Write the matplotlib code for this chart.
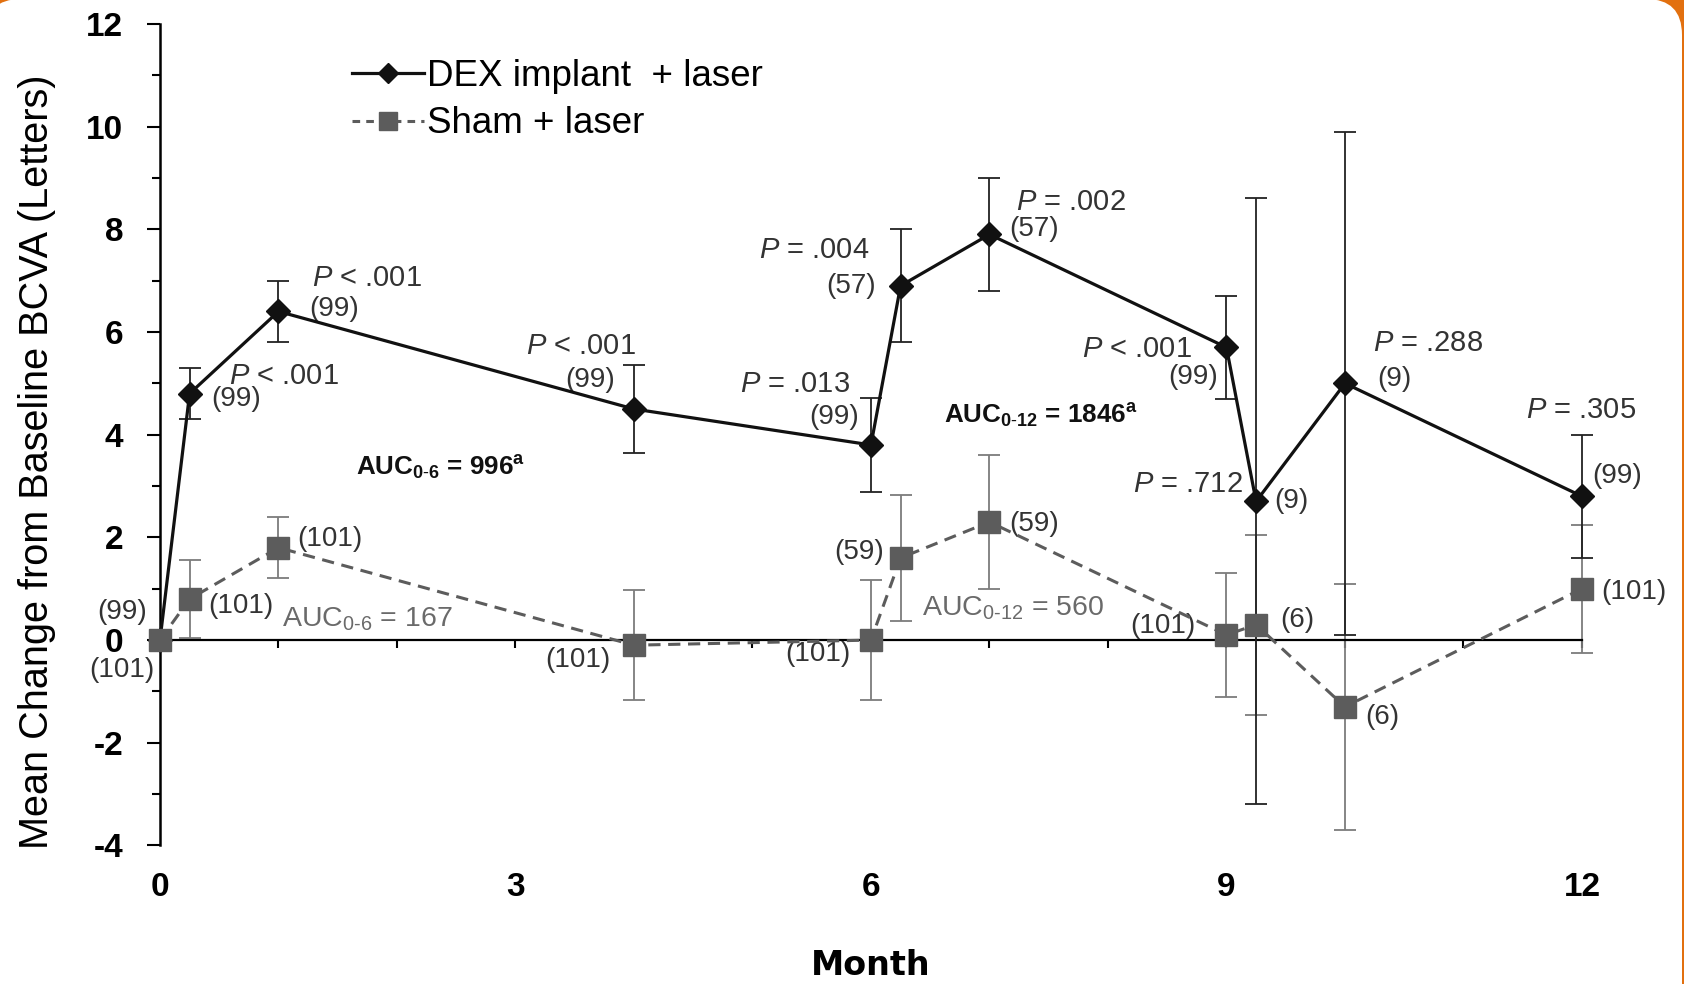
import numpy as np
import matplotlib
matplotlib.use("Agg")
import matplotlib.pyplot as plt
from matplotlib.patches import FancyBboxPatch
from matplotlib.lines import Line2D

plt.rcParams['font.family'] = ['Liberation Sans', 'DejaVu Sans']
plt.rcParams['mathtext.fontset'] = 'custom'
plt.rcParams['mathtext.rm'] = 'Liberation Sans'
plt.rcParams['mathtext.it'] = 'Liberation Sans:italic'
plt.rcParams['mathtext.bf'] = 'Liberation Sans:bold'
plt.rcParams['axes.unicode_minus'] = False

# data
months = [0, 0.25, 1, 4, 6, 6.25, 7, 9, 9.25, 10, 12]
dex_mean = [0, 4.8, 6.4, 4.5, 3.8, 6.9, 7.9, 5.7, 2.7, 5.0, 2.8]
dex_err = [0, 0.5, 0.6, 0.85, 0.92, 1.1, 1.1, 1.0, 5.9, 4.9, 1.2]
sham_mean = [0, 0.8, 1.8, -0.1, 0.0, 1.6, 2.3, 0.1, 0.3, -1.3, 1.0]
sham_err = [0, 0.75, 0.6, 1.07, 1.17, 1.22, 1.3, 1.2, 1.75, 2.4, 1.25]

p_labels = ["P < .001", "P < .001", "P < .001", "P = .013", "P = .004",
            "P = .002", "P < .001", "P = .712", "P = .288", "P = .305"]
p_pos = [(0.58, 5.15, 'left'), (1.28, 7.05, 'left'), (4.02, 5.73, 'right'),
         (5.82, 4.98, 'right'), (5.99, 7.59, 'right'), (7.22, 8.54, 'left'),
         (8.71, 5.67, 'right'), (9.14, 3.03, 'right'), (10.24, 5.79, 'left'),
         (11.53, 4.48, 'left')]

dex_n = ["(99)", "(99)", "(99)", "(99)", "(99)", "(57)", "(57)", "(99)", "(9)", "(9)", "(99)"]
dex_n_pos = [(-0.11, 0.54, 'right'), (0.43, 4.69, 'left'), (1.26, 6.44, 'left'),
             (3.84, 5.06, 'right'), (5.90, 4.35, 'right'), (6.04, 6.90, 'right'),
             (7.17, 8.01, 'left'), (8.93, 5.13, 'right'), (9.40, 2.70, 'left'),
             (10.27, 5.08, 'left'), (12.09, 3.20, 'left')]
sham_n = ["(101)", "(101)", "(101)", "(101)", "(101)", "(59)", "(59)", "(101)", "(6)", "(6)", "(101)"]
sham_n_pos = [(-0.05, -0.58, 'right'), (0.41, 0.67, 'left'), (1.16, 1.97, 'left'),
              (3.80, -0.38, 'right'), (5.83, -0.27, 'right'), (6.11, 1.72, 'right'),
              (7.17, 2.26, 'left'), (8.74, 0.27, 'right'), (9.45, 0.40, 'left'),
              (10.17, -1.49, 'left'), (12.16, 0.94, 'left')]

xtick_vals = list(range(0, 13))
xtick_text = [str(m) if m % 3 == 0 else "" for m in xtick_vals]

fig = plt.figure(figsize=(16.84, 9.84), dpi=100, facecolor='#E2700F')
# white rounded card on the orange frame
card = FancyBboxPatch((-15, -60), 1697, 1045, boxstyle="round,pad=0,rounding_size=36",
                      transform=None, facecolor='white', edgecolor='none', zorder=-5)
fig.patches.append(card)

ax = fig.add_axes([0.0950, 0.1408, 0.8444, 0.8349])
ax.patch.set_alpha(0)

dark = '#111111'
gray = '#5c5c5c'

ax.errorbar(months, sham_mean, yerr=sham_err, fmt='none', ecolor='#7c7c7c',
            elinewidth=1.3, capsize=8, capthick=1.3, zorder=2, clip_on=False)
ax.errorbar(months, dex_mean, yerr=dex_err, fmt='none', ecolor='#222222',
            elinewidth=1.3, capsize=8, capthick=1.3, zorder=3, clip_on=False)
ax.plot(months, dex_mean, color=dark, lw=2.3, marker='D', ms=12,
        zorder=4, clip_on=False)
ax.plot(months, sham_mean, color=gray, lw=2.2, ls=(0, (4, 2.5)), marker='s', ms=16,
        zorder=5, clip_on=False)

ax.set_xlim(0, 12)
ax.set_ylim(-4, 12)
for s in ['top', 'right']:
    ax.spines[s].set_visible(False)
ax.spines['left'].set_linewidth(1.8)
ax.spines['bottom'].set_position(('data', 0))
ax.spines['bottom'].set_linewidth(1.6)

ax.set_yticks(np.arange(-4, 13, 2))
ax.set_yticks(np.arange(-3, 12, 2), minor=True)
ax.tick_params(axis='y', which='major', length=9.5, width=1.5, pad=17,
               labelsize=24)
ax.tick_params(axis='y', which='minor', length=6, width=1.5)
for lab in ax.get_yticklabels():
    lab.set_fontweight('bold')

ax.set_xticks(xtick_vals)
ax.set_xticklabels(xtick_text, fontsize=24, fontweight='bold')
ax.tick_params(axis='x', length=6, width=1.5, pad=161)

ax.set_xlabel("Month", fontsize=24, fontweight='bold', family='DejaVu Sans',
              labelpad=33)
ax.set_ylabel("Mean Change from Baseline BCVA (Letters)", fontsize=28.5)
ax.yaxis.set_label_coords(-0.073, 0.467)

# annotations
for txt, (x, y, ha) in zip(p_labels, p_pos):
    ax.text(x, y, "$\\mathit{P}$" + txt[1:], fontsize=21, color='#333333',
            ha=ha, va='center')
for txt, (x, y, ha) in zip(dex_n, dex_n_pos):
    ax.text(x, y, txt, fontsize=20, color='#333333', ha=ha, va='center')
for txt, (x, y, ha) in zip(sham_n, sham_n_pos):
    ax.text(x, y, txt, fontsize=20, color='#333333', ha=ha, va='center')

ax.text(1.65, 3.21, "AUC$_{\\mathregular{0}\\text{-}\\mathregular{6}}$ = 996$^{\\mathregular{a}}$",
        fontsize=18.7, fontweight='bold', color='#111111', ha='left', va='baseline')
ax.text(6.62, 4.22, "AUC$_{\\mathregular{0}\\text{-}\\mathregular{12}}$ = 1846$^{\\mathregular{a}}$",
        fontsize=18.7, fontweight='bold', color='#111111', ha='left', va='baseline')
ax.text(1.03, 0.27, "AUC$_{\\mathregular{0}\\text{-}\\mathregular{6}}$ = 167",
        fontsize=20.5, color='#6a6a6a', ha='left', va='baseline')
ax.text(6.43, 0.47, "AUC$_{\\mathregular{0}\\text{-}\\mathregular{12}}$ = 560",
        fontsize=20.5, color='#6a6a6a', ha='left', va='baseline')

handles = [Line2D([], [], color=dark, lw=2.3, marker='D', ms=10),
           Line2D([], [], color=gray, lw=2.2, ls=(0, (2.5, 2)), marker='s', ms=13)]
ax.legend(handles, ["DEX implant  + laser", "Sham + laser"], loc='upper left',
          bbox_to_anchor=(0.135, 0.957), frameon=False, fontsize=26.5,
          handlelength=1.95, handletextpad=0.1, labelspacing=0.33,
          borderpad=0, borderaxespad=0, numpoints=1)

fig.savefig("out.png", dpi=100, facecolor=fig.get_facecolor())
